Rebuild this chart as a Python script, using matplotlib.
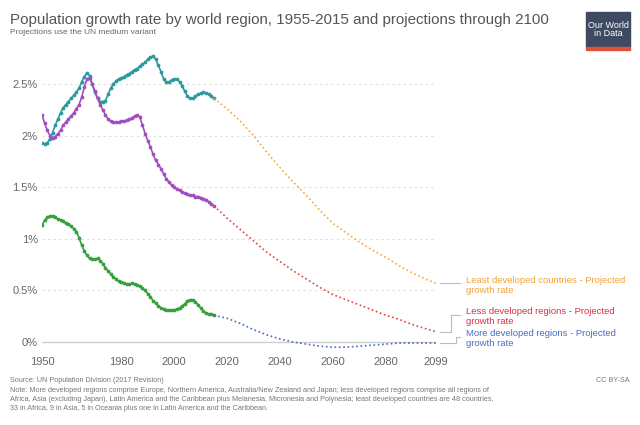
import matplotlib.pyplot as plt
from matplotlib.patches import Rectangle

plt.rcParams['font.family'] = ['Liberation Sans', 'DejaVu Sans']

# historical, annual 1950-2015
years_hist = list(range(1950, 2016))
least_dev = [
    1.93, 1.92, 1.93, 1.97, 2.03, 2.10, 2.16, 2.22, 2.27, 2.30,
    2.33, 2.36, 2.39, 2.42, 2.46, 2.52, 2.57, 2.61, 2.58, 2.50,
    2.42, 2.36, 2.33, 2.33, 2.34, 2.40, 2.46, 2.50, 2.53, 2.55,
    2.56, 2.57, 2.59, 2.60, 2.62, 2.64, 2.65, 2.67, 2.69, 2.71,
    2.74, 2.76, 2.77, 2.74, 2.68, 2.62, 2.55, 2.52, 2.52, 2.54,
    2.55, 2.55, 2.52, 2.48, 2.43, 2.38, 2.36, 2.36, 2.38, 2.40,
    2.41, 2.42, 2.41, 2.40, 2.38, 2.36,
]
less_dev = [
    2.20, 2.12, 2.05, 2.00, 1.98, 1.99, 2.02, 2.05, 2.10, 2.13,
    2.16, 2.19, 2.22, 2.26, 2.30, 2.37, 2.47, 2.55, 2.56, 2.50,
    2.43, 2.36, 2.30, 2.25, 2.20, 2.16, 2.14, 2.13, 2.13, 2.13,
    2.14, 2.14, 2.15, 2.16, 2.17, 2.19, 2.20, 2.18, 2.10, 2.02,
    1.95, 1.89, 1.82, 1.76, 1.72, 1.68, 1.63, 1.58, 1.55, 1.52,
    1.50, 1.48, 1.47, 1.45, 1.44, 1.43, 1.42, 1.42, 1.41, 1.41,
    1.40, 1.39, 1.38, 1.36, 1.34, 1.32,
]
more_dev = [
    1.13, 1.18, 1.21, 1.22, 1.22, 1.21, 1.19, 1.18, 1.17, 1.15,
    1.14, 1.12, 1.10, 1.07, 1.01, 0.94, 0.88, 0.84, 0.81, 0.80,
    0.80, 0.81, 0.79, 0.76, 0.72, 0.69, 0.66, 0.63, 0.61, 0.59,
    0.58, 0.57, 0.56, 0.56, 0.57, 0.56, 0.55, 0.54, 0.52, 0.50,
    0.47, 0.44, 0.40, 0.38, 0.35, 0.33, 0.32, 0.31, 0.31, 0.31,
    0.31, 0.32, 0.33, 0.35, 0.37, 0.40, 0.41, 0.41, 0.39, 0.36,
    0.33, 0.30, 0.28, 0.27, 0.27, 0.26,
]

# projections (UN medium variant)
years_proj = [2015, 2020, 2025, 2030, 2035, 2040, 2045, 2050, 2055,
              2060, 2065, 2070, 2075, 2080, 2085, 2090, 2095, 2099]
least_proj = [2.36, 2.26, 2.14, 2.00, 1.84, 1.69, 1.55, 1.42, 1.28,
              1.15, 1.06, 0.97, 0.89, 0.82, 0.74, 0.67, 0.61, 0.57]
less_proj = [1.32, 1.20, 1.09, 0.98, 0.87, 0.78, 0.69, 0.61, 0.53,
             0.46, 0.41, 0.36, 0.31, 0.26, 0.22, 0.17, 0.13, 0.10]
more_proj = [0.26, 0.23, 0.18, 0.12, 0.07, 0.03, 0.00, -0.02, -0.04,
             -0.05, -0.05, -0.04, -0.03, -0.02, -0.01, -0.01, -0.01, -0.01]

xticks = [1950, 1980, 2000, 2020, 2040, 2060, 2080, 2099]
yticks = [0, 0.5, 1, 1.5, 2, 2.5]
ytick_labels = ['0%', '0.5%', '1%', '1.5%', '2%', '2.5%']

labels = [
    ('Least developed countries - Projected\ngrowth rate', '#f2a33a'),
    ('Less developed regions - Projected\ngrowth rate', '#d4314a'),
    ('More developed regions - Projected\ngrowth rate', '#4a6cc0'),
]

fig = plt.figure(figsize=(6.4, 4.25), dpi=100)
ax = fig.add_axes([42 / 640, 1 - 350.3 / 425, 394 / 640, 302.4 / 425])
ax.set_xlim(1950, 2099)
ax.set_ylim(-0.08, 2.85)

for y in yticks[1:]:
    ax.axhline(y, color='#dddddd', lw=0.8, ls=(0, (2, 3)), zorder=0)
ax.axhline(0, color='#cccccc', lw=0.9, zorder=0)

ms = 1.7
ax.plot(years_hist, least_dev, color='#2b9a9f', lw=1.2, marker='o', ms=ms)
ax.plot(years_hist, less_dev, color='#a24ec0', lw=1.2, marker='o', ms=ms)
ax.plot(years_hist, more_dev, color='#36a03c', lw=1.2, marker='o', ms=ms)

dot = (0, (1, 1.6))
ax.plot(years_proj, least_proj, color='#f7a93e', lw=1.2, ls=dot)
ax.plot(years_proj, less_proj, color='#e04545', lw=1.2, ls=dot)
ax.plot(years_proj, more_proj, color='#4a6cc0', lw=1.2, ls=dot)

ax.set_xticks(xticks)
ax.set_xticklabels([str(x) for x in xticks])
ax.set_yticks(yticks)
ax.set_yticklabels(ytick_labels)
ax.tick_params(axis='y', length=0, labelsize=8, colors='#666666', pad=3)
ax.tick_params(axis='x', length=0, labelsize=8, colors='#666666', pad=5)
for s in ax.spines.values():
    s.set_visible(False)

# series labels with connectors
conn = dict(color='#bbbbbb', lw=0.8, clip_on=False)
ax.plot([2100.5, 2108], [least_proj[-1]] * 2, **conn)
ax.plot([2100.5, 2104.5, 2104.5, 2108], [less_proj[-1], less_proj[-1], 0.26, 0.26], **conn)
ax.plot([2100.5, 2106.5, 2106.5, 2108], [more_proj[-1], more_proj[-1], 0.05, 0.05], **conn)
label_y = [0.55, 0.25, 0.035]
for (txt, c), y in zip(labels, label_y):
    ax.text(2110.5, y, txt, color=c, fontsize=6.8, va='center', ha='left',
            linespacing=1.1, clip_on=False)

fig.text(10 / 640, 1 - 20 / 425,
         'Population growth rate by world region, 1955-2015 and projections through 2100',
         fontsize=10.9, color='#555555', va='center')
fig.text(10 / 640, 1 - 33 / 425, 'Projections use the UN medium variant',
         fontsize=6.0, color='#666666', va='center')

# logo
fig.patches.append(Rectangle((586 / 640, 1 - 47 / 425), 44 / 640, 35 / 425,
                             transform=fig.transFigure, color='#3d4a61'))
fig.patches.append(Rectangle((586 / 640, 1 - 50 / 425), 44 / 640, 3 / 425,
                             transform=fig.transFigure, color='#e0533a'))
fig.text(608 / 640, 1 - 29.5 / 425, 'Our World\nin Data', color='white',
         fontsize=6.5, ha='center', va='center', linespacing=1.0)

fig.text(10 / 640, 1 - 380 / 425, 'Source: UN Population Division (2017 Revision)',
         fontsize=5.2, color='#777777', va='center')
fig.text(630 / 640, 1 - 380 / 425, 'CC BY-SA', fontsize=5.2, color='#777777',
         va='center', ha='right')
note = ('Note: More developed regions comprise Europe, Northern America, Australia/New Zealand and Japan; '
        'less developed regions comprise all regions of\n'
        'Africa, Asia (excluding Japan), Latin America and the Caribbean plus Melanesia, Micronesia and '
        'Polynesia; least developed countries are 48 countries,\n'
        '33 in Africa, 9 in Asia, 5 in Oceania plus one in Latin America and the Caribbean.')
fig.text(10 / 640, 1 - 387.5 / 425, note, fontsize=5.2, color='#777777',
         va='top', linespacing=1.35)

fig.savefig('out.png', dpi=100, facecolor='white')
